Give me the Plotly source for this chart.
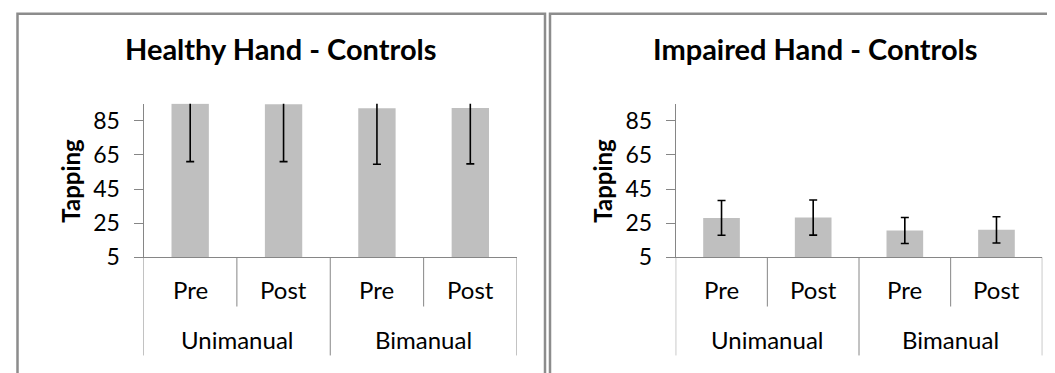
import plotly.graph_objects as go

# ---- data ----
groups = ["Unimanual", "Unimanual", "Bimanual", "Bimanual"]
phases = ["Pre", "Post", "Pre", "Post"]
healthy_means = [95.2, 94.7, 92.4, 92.6]
healthy_err = [34.1, 33.6, 32.8, 32.8]
impaired_means = [28.1, 28.3, 20.7, 21.1]
impaired_err = [10.2, 10.3, 7.6, 7.7]
titles = ["Healthy Hand - Controls", "Impaired Hand - Controls"]
y_title = "Tapping"
y_range = [5, 95]
y_tick0 = 5
y_dtick = 20

W, H = 1055, 373
BAR_COLOR = "#bfbfbf"
AXIS_COLOR = "#868686"
FRAME_COLOR = "#8c8c8c"
FONT = "Lato"

def px(x):
    return x / W

def py(y):
    return 1 - y / H

cats = [f"{g} {p}" for g, p in zip(groups, phases)]

fig = go.Figure()

panels = [
    dict(means=healthy_means, err=healthy_err, xa="x", ya="y",
         dom=(135.5, 509), frame=(9.5, 537), title_x=273, ytitle_x=63),
    dict(means=impaired_means, err=impaired_err, xa="x2", ya="y2",
         dom=(667.7, 1034.3), frame=(542, 1072), title_x=807, ytitle_x=595),
]

plot_top, plot_bot = 99.3, 258.3
inner_bot, outer_bot = 309.3, 360

shapes = []
annotations = []

for i, p in enumerate(panels):
    fig.add_trace(go.Bar(
        x=cats, y=p["means"], xaxis=p["xa"], yaxis=p["ya"],
        width=0.4, marker=dict(color=BAR_COLOR, line=dict(width=0)),
        error_y=dict(type="data", array=p["err"], visible=True,
                     color="black", thickness=1.6, width=4),
        showlegend=False, hoverinfo="skip",
    ))
    sfx = "" if i == 0 else "2"
    axis_x = dict(domain=[px(p["dom"][0]), px(p["dom"][1])], range=[-0.5, 3.5],
                  type="category", showticklabels=False, ticks="",
                  showline=True, linecolor=AXIS_COLOR, linewidth=1,
                  showgrid=False, zeroline=False, anchor="y" + sfx, fixedrange=True)
    axis_y = dict(domain=[py(plot_bot), py(plot_top)], range=y_range,
                  tick0=y_tick0, dtick=y_dtick, ticks="outside", ticklen=9,
                  tickcolor=AXIS_COLOR, tickwidth=1,
                  showline=True, linecolor=AXIS_COLOR, linewidth=1,
                  showgrid=False, zeroline=False, anchor="x" + sfx,
                  tickfont=dict(family=FONT, size=23, color="black"),
                  ticklabelstandoff=9, fixedrange=True)
    fig.update_layout(**{"xaxis" + sfx: axis_x, "yaxis" + sfx: axis_y})

    xref = p["xa"]
    for xv, bottom in [(-0.5, outer_bot), (0.5, inner_bot), (1.5, outer_bot),
                       (2.5, inner_bot), (3.5, outer_bot)]:
        shapes.append(dict(type="line", xref=xref, yref="paper",
                           x0=xv, x1=xv, y0=py(plot_bot), y1=py(bottom),
                           line=dict(color=AXIS_COLOR, width=1)))
    for k, ph in enumerate(phases):
        annotations.append(dict(text=ph, xref=xref, yref="paper", x=k, y=py(292),
                                showarrow=False, xanchor="center", yanchor="middle",
                                font=dict(family=FONT, size=24, color="black")))
    for g_idx, g in enumerate([groups[0], groups[2]]):
        annotations.append(dict(text=g, xref=xref, yref="paper", x=0.5 + 2 * g_idx,
                                y=py(343), showarrow=False, xanchor="center",
                                yanchor="middle",
                                font=dict(family=FONT, size=24, color="black")))
    annotations.append(dict(text=f"<b>{titles[i]}</b>", xref="paper", yref="paper",
                            x=px(p["title_x"]), y=py(42), showarrow=False,
                            xanchor="center", yanchor="middle",
                            font=dict(family=FONT, size=29, color="black")))
    annotations.append(dict(text=f"<b>{y_title}</b>", xref="paper", yref="paper",
                            x=px(p["ytitle_x"]), y=py(179), showarrow=False,
                            textangle=-90, xanchor="center", yanchor="middle",
                            font=dict(family=FONT, size=24, color="black")))
    fx0, fx1 = p["frame"]
    shapes.append(dict(type="rect", xref="paper", yref="paper",
                       x0=px(fx0), x1=px(fx1), y0=-0.2, y1=py(6),
                       line=dict(color=FRAME_COLOR, width=2.5), layer="below"))

fig.update_layout(
    width=W, height=H, margin=dict(l=0, r=0, t=0, b=0),
    paper_bgcolor="white", plot_bgcolor="rgba(0,0,0,0)",
    shapes=shapes, annotations=annotations, bargap=0.6,
    font=dict(family=FONT, color="black"),
)

fig.write_html("out.html")
